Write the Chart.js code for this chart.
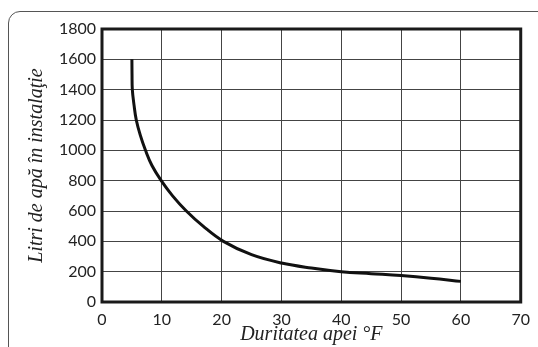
<!DOCTYPE html>
<html>
<head>
<meta charset="utf-8">
<script src="https://cdn.jsdelivr.net/npm/chart.js@4"></script>
<style>
  html, body { margin: 0; padding: 0; background: #fff; overflow: hidden; }
  #wrap { position: relative; width: 538px; height: 347px; }
  #frame {
    position: absolute; left: 8px; top: 11px; width: 700px; height: 500px;
    border: 1.5px solid #555; border-radius: 12px;
  }
  canvas { position: absolute; left: 0; top: 0; }
</style>
</head>
<body>
<div id="wrap">
  <div id="frame"></div>
  <canvas id="chart" width="538" height="347"></canvas>
</div>
<script>
// hardness (°F) vs litres in the installation
const hardness = [5, 5.02, 5.07, 5.35, 5.73, 6.4, 7.27, 8.35, 9.9, 11.8, 14.1, 16.9, 20.3, 25, 30, 35, 40, 45, 50, 55, 60];
const litres = [1600, 1500, 1400, 1300, 1200, 1100, 1000, 900, 800, 700, 600, 500, 400, 312, 257, 224, 200, 187, 174, 157, 136];
const xTicks = [0, 10, 20, 30, 40, 50, 60, 70];
const yTicks = [0, 200, 400, 600, 800, 1000, 1200, 1400, 1600, 1800];

const points = hardness.map((h, i) => ({ x: h, y: litres[i] }));

const tickFont = { family: "Lato", size: 16 };
const titleFont = { family: "Liberation Serif", size: 20, style: "italic" };

const ctx = document.getElementById("chart").getContext("2d");
new Chart(ctx, {
  type: "line",
  data: {
    datasets: [
      {
        data: points,
        borderColor: "#111",
        borderWidth: 3,
        pointRadius: 0,
        tension: 0.4,
        fill: false,
      },
    ],
  },
  plugins: [
    {
      id: "border",
      afterDatasetsDraw(chart) {
        const { ctx, chartArea: a } = chart;
        ctx.save();
        ctx.strokeStyle = "#1a1a1a";
        ctx.lineWidth = 3;
        ctx.strokeRect(a.left, a.top, a.right - a.left, a.bottom - a.top);
        ctx.restore();
      },
    },
  ],
  options: {
    responsive: false,
    animation: false,
    layout: { padding: { top: 29, right: 10, left: 0, bottom: 0 } },
    plugins: { legend: { display: false }, tooltip: { enabled: false } },
    scales: {
      x: {
        type: "linear",
        min: 0,
        max: 70,
        afterBuildTicks: (s) => { s.ticks = xTicks.map((v) => ({ value: v })); },
        afterFit: (s) => { s.height = 45; },
        grid: { color: "#444", lineWidth: 1, drawTicks: false },
        border: { display: false },
        ticks: { color: "#222", font: tickFont, padding: 8, callback: (v) => String(v) },
        title: { display: true, text: "Duritatea apei °F", color: "#222", font: titleFont, padding: { top: -6, bottom: 0 } },
      },
      y: {
        min: 0,
        max: 1800,
        afterBuildTicks: (s) => { s.ticks = yTicks.map((v) => ({ value: v })); },
        afterFit: (s) => { s.width = 102; },
        grid: { color: "#444", lineWidth: 1, drawTicks: false },
        border: { display: false },
        ticks: { color: "#222", font: tickFont, padding: 6, callback: (v) => String(v) },
        title: { display: true, text: "Litri de apă în instalaţie", color: "#222", font: titleFont, padding: { top: 25, bottom: 0 } },
      },
    },
  },
});
</script>
</body>
</html>
